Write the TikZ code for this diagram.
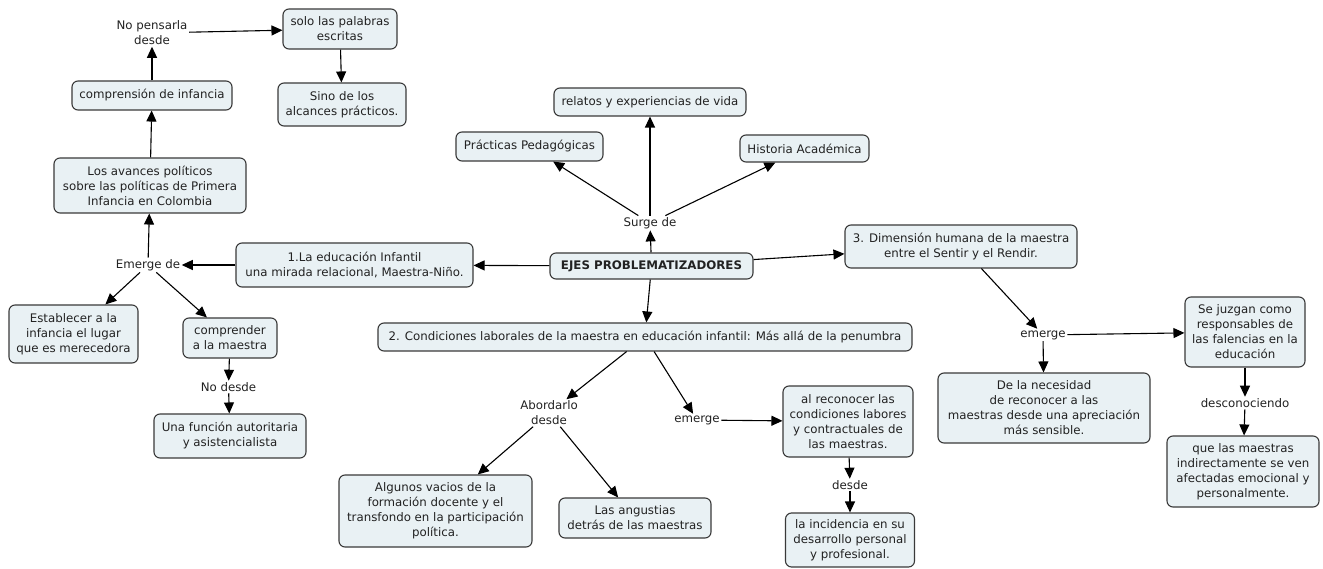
\documentclass[tikz,border=0pt]{standalone}
\usepackage{fontspec}
\setmainfont{DejaVu Sans}
\usetikzlibrary{arrows.meta}
\definecolor{boxfill}{HTML}{E9F1F4}
\definecolor{boxline}{HTML}{3A3A3A}
\definecolor{inktext}{HTML}{222222}
\begin{document}
\begin{tikzpicture}[x=1pt,y=-1pt,
  every node/.style={font=\fontsize{11.8}{15}\selectfont, text=inktext, align=center},
  concept/.style={draw=boxline, fill=boxfill, line width=1.1pt, rounded corners=6pt, inner sep=0pt},
  linkword/.style={inner sep=1.5pt},
  arr/.style={draw=black, line width=1.1pt, -{Triangle[length=11pt,width=10pt]}}]
\path[use as bounding box, fill=white] (0,0) rectangle (1323,569);

% concepts
\node[concept, minimum width=114, minimum height=40] (solo) at (340,29) {solo las palabras\\escritas};
\node[concept, minimum width=128, minimum height=43] (sino) at (342,104.5) {Sino de los\\alcances prácticos.};
\node[concept, minimum width=160, minimum height=29] (comp) at (152,95.5) {comprensión de infancia};
\node[concept, minimum width=192, minimum height=55] (avan) at (150,185.5) {Los avances políticos\\sobre las políticas de Primera\\Infancia en Colombia};
\node[concept, minimum width=237, minimum height=44] (edu) at (354.5,265) {1.La educación Infantil\\una mirada relacional, Maestra-Niño.};
\node[concept, minimum width=129, minimum height=58] (est) at (73.5,334) {Establecer a la\\infancia el lugar\\que es merecedora};
\node[concept, minimum width=94, minimum height=40] (cma) at (230,338) {comprender\\a la maestra};
\node[concept, minimum width=152, minimum height=44] (func) at (230,436) {Una función autoritaria\\y asistencialista};
\node[concept, minimum width=192, minimum height=28] (rel) at (650,102) {relatos y experiencias de vida};
\node[concept, minimum width=147, minimum height=29] (prac) at (529.5,146.5) {Prácticas Pedagógicas};
\node[concept, minimum width=129, minimum height=27] (hist) at (804.5,148.5) {Historia Académica};
\node[concept, minimum width=203, minimum height=26, font=\fontsize{11.8}{15}\selectfont\bfseries] (ejes) at (651.5,266) {EJES PROBLEMATIZADORES};
\node[concept, minimum width=232, minimum height=43] (dim) at (961,246.5) {3. Dimensión humana de la maestra\\entre el Sentir y el Rendir.};
\node[concept, minimum width=534, minimum height=28] (cond) at (645,337) {2. Condiciones laborales de la maestra en educación infantil: Más allá de la penumbra};
\node[concept, minimum width=193, minimum height=72] (alg) at (435.5,511) {Algunos vacios de la\\formación docente y el\\transfondo en la participación\\política.};
\node[concept, minimum width=152, minimum height=40] (ang) at (635,518) {Las angustias\\detrás de las maestras};
\node[concept, minimum width=130, minimum height=71] (recon) at (848,421.5) {al reconocer las\\condiciones labores\\y contractuales de\\las maestras.};
\node[concept, minimum width=129, minimum height=54] (inc) at (850,540) {la incidencia en su\\desarrollo personal\\y profesional.};
\node[concept, minimum width=120, minimum height=70] (juz) at (1245,332) {Se juzgan como\\responsables de\\las falencias en la\\educación};
\node[concept, minimum width=212, minimum height=70] (nec) at (1044,408) {De la necesidad\\de reconocer a las\\maestras desde una apreciación\\más sensible.};
\node[concept, minimum width=152, minimum height=71] (que) at (1243,471.5) {que las maestras\\indirectamente se ven\\afectadas emocional y\\personalmente.};

% linking words
\node[linkword] (npd) at (152,33) {No pensarla\\desde};
\node[linkword] (emd) at (148,265) {Emerge de};
\node[linkword] (nod) at (228.5,387) {No desde};
\node[linkword] (surge) at (650,223) {Surge de};
\node[linkword] (abor) at (549,413) {Abordarlo\\desde};
\node[linkword] (em2) at (697,420) {emerge};
\node[linkword] (desde) at (850,485) {desde};
\node[linkword] (em3) at (1043,335) {emerge};
\node[linkword] (desc) at (1245,403) {desconociendo};

% connectors
\draw[arr] (avan) -- (comp);
\draw[arr] (comp) -- (npd);
\draw[arr] (npd) -- (solo);
\draw[arr] (solo) -- (sino);
\draw[arr] (emd) -- (avan);
\draw[arr] (edu) -- (emd);
\draw[arr] (emd) -- (est);
\draw[arr] (emd) -- (cma);
\draw[arr] (cma) -- (nod);
\draw[arr] (nod) -- (func);
\draw[arr] (ejes) -- (edu);
\draw[arr] (ejes) -- (surge);
\draw[arr] (surge) -- (rel);
\draw[arr] (surge) -- (prac);
\draw[arr] (surge) -- (hist);
\draw[arr] (ejes) -- (dim);
\draw[arr] (ejes) -- (cond);
\draw[arr] (cond) -- (abor);
\draw[arr] (cond) -- (em2);
\draw[arr] (abor) -- (alg);
\draw[arr] (abor) -- (ang);
\draw[arr] (em2) -- (recon);
\draw[arr] (recon) -- (desde);
\draw[arr] (desde) -- (inc);
\draw[arr] (dim) -- (em3);
\draw[arr] (em3) -- (juz);
\draw[arr] (em3) -- (nec);
\draw[arr] (juz) -- (desc);
\draw[arr] (desc) -- (que);
\end{tikzpicture}
\end{document}
